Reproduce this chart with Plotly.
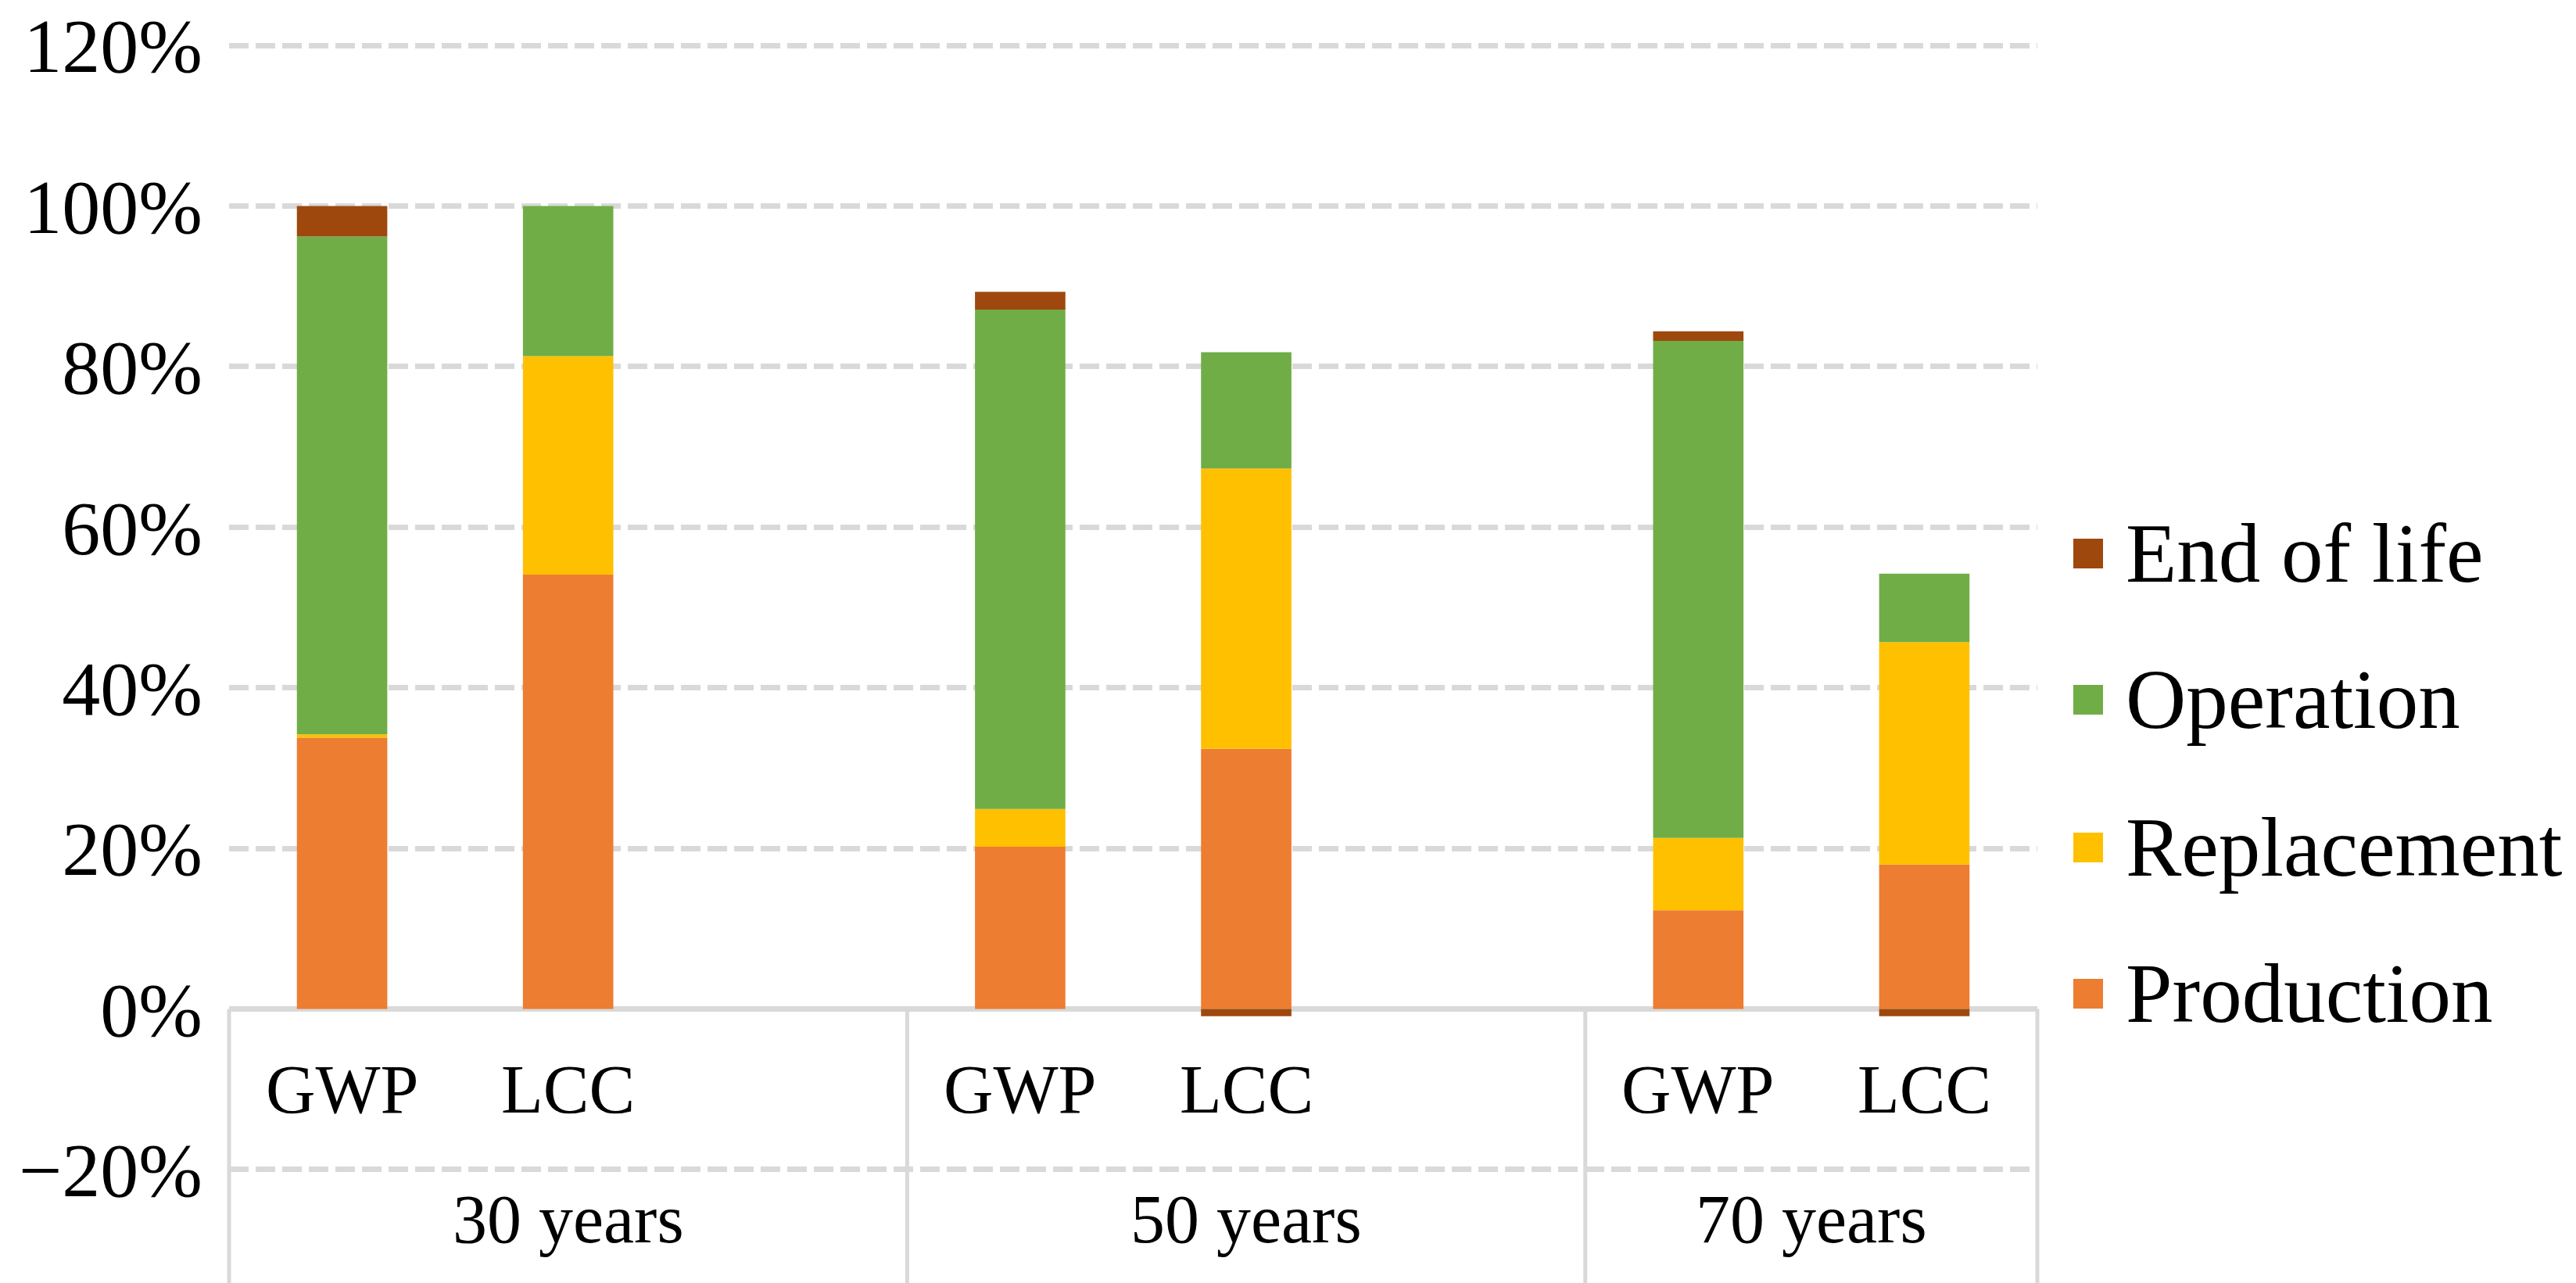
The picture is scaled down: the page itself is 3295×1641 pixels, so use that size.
import plotly.graph_objects as go

# ---- data (percent) ----
groups = ["30 years", "50 years", "70 years"]
# bar slot positions: three slots per group (third one empty), last group two slots
x_pos = [0, 1, 3, 4, 6, 7]
bar_labels = ["GWP", "LCC", "GWP", "LCC", "GWP", "LCC"]
group_bounds = [-0.5, 2.5, 5.5, 7.5]

production = [33.8, 54.1, 20.2, 32.4, 12.3, 18.0]
replacement = [0.4, 27.2, 4.7, 34.9, 9.0, 27.7]
operation = [62.0, 18.7, 62.2, 14.5, 61.9, 8.5]
end_of_life = [3.8, 0.0, 2.2, -0.9, 1.2, -0.9]

y_ticks = [-20, 0, 20, 40, 60, 80, 100, 120]
y_tick_text = ["\u221220%", "0%", "20%", "40%", "60%", "80%", "100%", "120%"]

series_names = ["Production", "Replacement", "Operation", "End of life"]
series_values = [production, replacement, operation, end_of_life]
series_colors = ["#ED7D31", "#FFC000", "#70AD47", "#9E480E"]

FONT = "Liberation Serif, Times New Roman, serif"
FS_CAT = 88
FS_TICK = 98
FS_LEG = 107
W, H = 3295, 1641
# reference plot box (pixels) used for placing legend / labels
BOX_L, BOX_R, BOX_T, BOX_B = 293, 2606, 52, 1494
BOX_W, BOX_H = BOX_R - BOX_L, BOX_B - BOX_T
DX, DY = 8, 4
ML, MR, MT, MB = BOX_L - DX, W - BOX_R + DX, BOX_T - DY, H - BOX_B + DY
XMIN, XMAX = -0.5, 7.5
YMIN, YMAX = -20.2, 120.2


def px_x(px):
    return (px - BOX_L) / BOX_W


def px_y(py):
    return (BOX_B - py) / BOX_H


fig = go.Figure()
for name, vals, col in zip(series_names, series_values, series_colors):
    fig.add_trace(go.Bar(x=x_pos, y=vals, name=name, marker_color=col,
                         marker_line_width=0, showlegend=False, width=0.4))

grid = "#D9D9D9"
annotations = []
shapes = []

# category labels
for xp, lab in zip(x_pos, bar_labels):
    annotations.append(dict(x=xp, y=-10, xref="x", yref="y", text=lab,
                            showarrow=False,
                            font=dict(family=FONT, size=FS_CAT, color="black"),
                            xanchor="center", yanchor="middle"))
for gi, g in enumerate(groups):
    xc = (group_bounds[gi] + group_bounds[gi + 1]) / 2
    annotations.append(dict(x=xc, y=px_y(1555), xref="x", yref="paper", text=g,
                            showarrow=False,
                            font=dict(family=FONT, size=FS_CAT, color="black"),
                            xanchor="center", yanchor="middle"))

# group separators
y_zero_paper = (0 - YMIN) / (YMAX - YMIN)
for b in group_bounds:
    xp = (b - XMIN) / (XMAX - XMIN)
    shapes.append(dict(type="line", xref="paper", yref="paper",
                       x0=xp, x1=xp, y0=y_zero_paper, y1=-MB / BOX_H,
                       line=dict(color=grid, width=5)))

# legend (top to bottom: End of life, Operation, Replacement, Production)
leg_y = [704, 891, 1080, 1267]
sq = 38
for i, idx in enumerate([3, 2, 1, 0]):
    cy = leg_y[i]
    shapes.append(dict(type="rect", xref="paper", yref="paper",
                       x0=px_x(2652), x1=px_x(2652 + sq),
                       y0=px_y(cy + sq / 2), y1=px_y(cy - sq / 2),
                       fillcolor=series_colors[idx], line=dict(width=0)))
    annotations.append(dict(x=px_x(2717), y=px_y(cy), xref="paper", yref="paper",
                            text=series_names[idx], showarrow=False,
                            font=dict(family=FONT, size=FS_LEG, color="black"),
                            xanchor="left", yanchor="middle"))

fig.update_layout(
    width=W, height=H,
    margin=dict(l=ML, r=MR, t=MT, b=MB, autoexpand=False),
    paper_bgcolor="white", plot_bgcolor="white",
    barmode="relative", bargap=0.6,
    showlegend=False,
    font=dict(family=FONT, size=FS_CAT, color="black"),
    xaxis=dict(range=[XMIN, XMAX], showticklabels=False, showgrid=False,
               zeroline=False, showline=False, ticks="", automargin=False),
    yaxis=dict(range=[YMIN, YMAX], tickvals=y_ticks, ticktext=y_tick_text,
               showgrid=True, gridcolor=grid, gridwidth=7, griddash="25px,9px",
               zeroline=True, zerolinecolor=grid, zerolinewidth=7,
               showline=False, ticks="", ticklabelstandoff=33,
               ticklabeloverflow="allow", automargin=False,
               tickfont=dict(family=FONT, size=FS_TICK, color="black")),
    annotations=annotations, shapes=shapes,
)

fig.write_html("out.html")
